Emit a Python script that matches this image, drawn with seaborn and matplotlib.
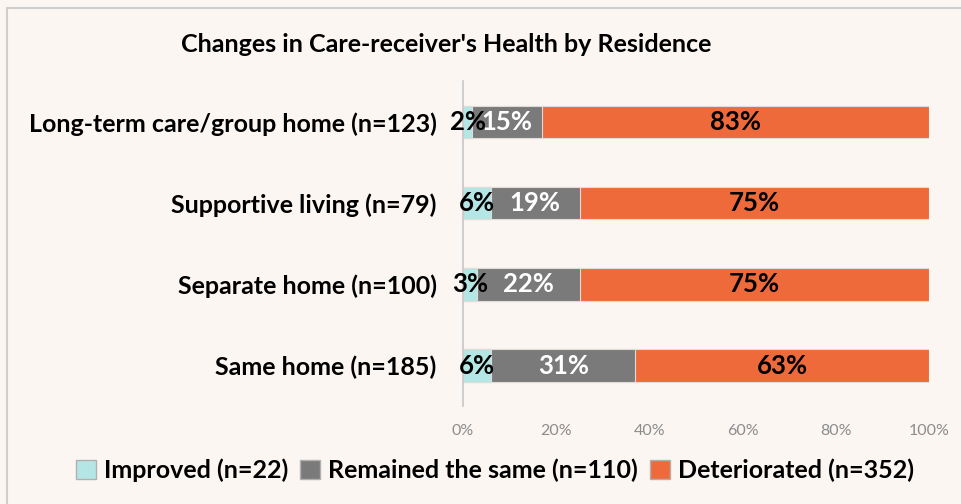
import matplotlib
matplotlib.use("Agg")
import matplotlib.pyplot as plt
import seaborn as sns
import pandas as pd
import numpy as np
from matplotlib.patches import Patch

# data (percent of each residence group)
residences = ["Long-term care/group home (n=123)", "Supportive living (n=79)",
              "Separate home (n=100)", "Same home (n=185)"]
improved = [2, 6, 3, 6]
remained = [15, 19, 22, 31]
deteriorated = [83, 75, 75, 63]
series_names = ["Improved (n=22)", "Remained the same (n=110)", "Deteriorated (n=352)"]
x_ticks = [0, 20, 40, 60, 80, 100]

BG = "#fbf6f2"
COLORS = ["#b3e6e4", "#7a7a7a", "#ef6a3a"]
TEXT_COLORS = ["black", "white", "black"]

sns.set_theme(style="white")
plt.rcParams["font.family"] = ["Lato", "DejaVu Sans"]
plt.rcParams["text.color"] = "black"

df = pd.DataFrame({"residence": residences, "improved": improved,
                   "remained": remained, "deteriorated": deteriorated})
df["c1"] = df["improved"]
df["c2"] = df["c1"] + df["remained"]
df["c3"] = df["c2"] + df["deteriorated"]

fig = plt.figure(figsize=(9.61, 5.04), dpi=100, facecolor=BG)
ax = fig.add_axes([0.4818, 0.194, 0.4849, 0.645], facecolor=BG)

# stacked bars: draw cumulative totals from longest to shortest
for col, color in zip(["c3", "c2", "c1"], COLORS[::-1]):
    sns.barplot(data=df, x=col, y="residence", color=color, width=0.4,
                edgecolor="#e0dcd8", linewidth=0.8, saturation=1, ax=ax)

# segment labels
seg_vals = [improved, remained, deteriorated]
starts = [np.zeros(4), df["c1"].values, df["c2"].values]
for vals, left, tc in zip(seg_vals, starts, TEXT_COLORS):
    for i, v in enumerate(vals):
        ax.text(left[i] + v / 2, i, f"{v}%", ha="center", va="center",
                fontsize=18.5, fontweight="bold", color=tc)

ax.set_xlim(0, 100)
ax.set_ylim(3.5, -0.5)
ax.set_xticks(x_ticks)
ax.set_xticklabels([f"{t}%" for t in x_ticks], color="#8c8c8c", fontsize=11.5)
ax.tick_params(axis="x", length=0, pad=13)
ax.tick_params(axis="y", length=0, pad=19)
for lbl in ax.get_yticklabels():
    lbl.set_fontsize(18)
    lbl.set_fontweight("bold")
    lbl.set_color("black")
ax.set_xlabel("")
ax.set_ylabel("")
for s in ["top", "right", "bottom"]:
    ax.spines[s].set_visible(False)
ax.spines["left"].set_color("#c8c8c8")
ax.spines["left"].set_linewidth(1.2)

fig.text(0.464, 0.911, "Changes in Care-receiver's Health by Residence",
         ha="center", va="center", fontsize=18, fontweight="bold", color="black")

handles = [Patch(facecolor=c, edgecolor="#b0b0b0", label=n) for c, n in zip(COLORS, series_names)]
fig.legend(handles=handles, loc="center", bbox_to_anchor=(0.515, 0.067), ncol=3,
           frameon=False, prop={"size": 18, "weight": "bold"}, handlelength=0.8,
           handleheight=0.8, handletextpad=0.3, columnspacing=0.5, labelcolor="black")

# chart border lines (top and left) as in the screenshot
fig.add_artist(plt.Line2D([0.007, 1], [0.984, 0.984], color="#cfcfcf", lw=1.5))
fig.add_artist(plt.Line2D([0.007, 0.007], [0, 0.984], color="#cfcfcf", lw=1.5))

fig.savefig("out.png", dpi=100, facecolor=BG)
